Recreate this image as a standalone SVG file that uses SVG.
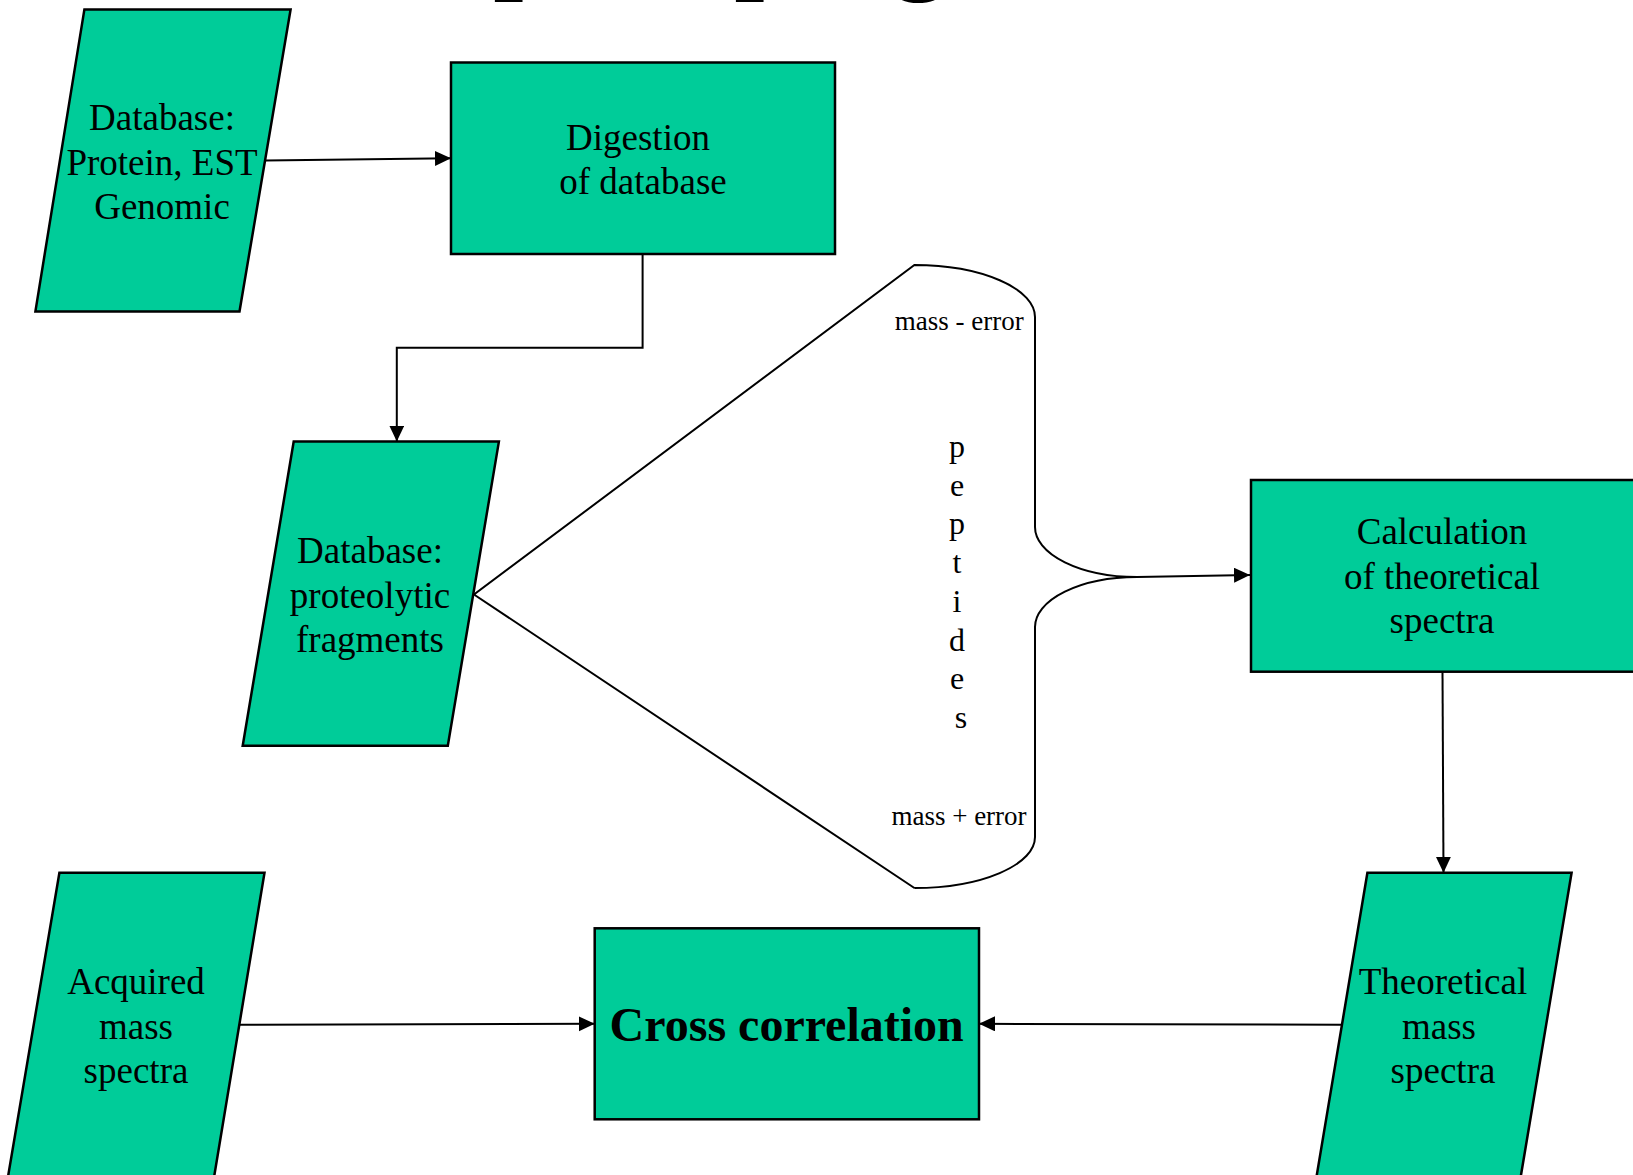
<svg xmlns="http://www.w3.org/2000/svg" width="1633" height="1175" viewBox="0 0 1633 1175">
  <style>
    .box { fill: #00CC99; stroke: #000; stroke-width: 2.5; }
    .lbl { font-family: "Liberation Serif", "Times New Roman", serif; font-size: 37px; fill: #000; text-anchor: middle; }
    .small { font-family: "Liberation Serif", "Times New Roman", serif; font-size: 27px; fill: #000; text-anchor: middle; }
    .vert { font-family: "Liberation Serif", "Times New Roman", serif; font-size: 32px; fill: #000; text-anchor: middle; }
    .title { font-family: "Liberation Serif", "Times New Roman", serif; font-size: 107px; font-weight: bold; fill: #000; }
    .big { font-family: "Liberation Serif", "Times New Roman", serif; font-size: 48px; font-weight: bold; fill: #000; text-anchor: middle; }
    .edge { fill: none; stroke: #000; stroke-width: 2; }
  </style>
  <defs>
    <marker id="arrow" markerUnits="userSpaceOnUse" markerWidth="17" markerHeight="17" refX="16" refY="7.5" orient="auto">
      <path d="M0,0 L16,7.5 L0,15 z" fill="#000"/>
    </marker>
  </defs>

  <rect x="0" y="0" width="1633" height="1175" fill="#fff"/>

  <!-- slide title, running off the top edge -->
  <text class="title" x="357" y="-21">Sequest program</text>

  <g id="db-source">
    <polygon class="box" points="84.4,9.4 290.6,9.4 239.5,311.4 35.4,311.4"/>
    <text class="lbl" x="162" y="130">Database:</text>
    <text class="lbl" x="162" y="175">Protein, EST</text>
    <text class="lbl" x="162" y="219">Genomic</text>
  </g>

  <g id="digestion">
    <rect class="box" x="451" y="62.5" width="384" height="191.5"/>
    <text class="lbl" x="638" y="149.5">Digestion</text>
    <text class="lbl" x="643" y="194">of database</text>
  </g>

  <g id="db-fragments">
    <polygon class="box" points="293.7,441.6 498.9,441.6 447.8,745.7 242.7,745.7"/>
    <text class="lbl" x="370" y="563">Database:</text>
    <text class="lbl" x="370" y="608">proteolytic</text>
    <text class="lbl" x="370" y="652">fragments</text>
  </g>

  <g id="peptide-window">
    <path class="edge" d="M914.4,888 L474,594.5 L914.4,265 A120.6,52 0 0 1 1035,317 L1035,527 A102,50 0 0 0 1137,577 A102,50 0 0 0 1035,627 L1035,837 A120.6,51 0 0 1 914.4,888"/>
    <text class="small" x="959.2" y="330">mass - error</text>
    <text class="small" x="959" y="825">mass + error</text>
    <text class="vert">
      <tspan x="961" y="457">p</tspan>
      <tspan x="961" y="495.7">e</tspan>
      <tspan x="961" y="534.4">p</tspan>
      <tspan x="961" y="573.1">t</tspan>
      <tspan x="961" y="611.8">i</tspan>
      <tspan x="961" y="650.5">d</tspan>
      <tspan x="961" y="689.2">e</tspan>
      <tspan x="961" y="727.9">s</tspan>
    </text>
  </g>

  <g id="calc-theoretical">
    <rect class="box" x="1251" y="480" width="386" height="191.7"/>
    <text class="lbl" x="1442" y="544">Calculation</text>
    <text class="lbl" x="1442" y="589">of theoretical</text>
    <text class="lbl" x="1442" y="633">spectra</text>
  </g>

  <g id="acquired">
    <polygon class="box" points="59.4,872.8 264.5,872.8 213.9,1178 7.8,1178"/>
    <text class="lbl" x="136" y="994">Acquired</text>
    <text class="lbl" x="136" y="1039">mass</text>
    <text class="lbl" x="136" y="1083">spectra</text>
  </g>

  <g id="theoretical">
    <polygon class="box" points="1367.4,872.8 1571.6,872.8 1520.5,1178 1316.3,1178"/>
    <text class="lbl" x="1443" y="994">Theoretical</text>
    <text class="lbl" x="1439" y="1039">mass</text>
    <text class="lbl" x="1443" y="1083">spectra</text>
  </g>

  <g id="cross-correlation">
    <rect class="box" x="594.7" y="928.3" width="384.3" height="191"/>
    <text class="big" x="786.7" y="1041">Cross correlation</text>
  </g>

  <g id="connectors">
    <path class="edge" d="M265.6,160.4 L451,158.3" marker-end="url(#arrow)"/>
    <path class="edge" d="M642.6,254 L642.6,347.8 L396.8,347.8 L396.8,441.6" marker-end="url(#arrow)"/>
    <path class="edge" d="M1137,577 L1250,575" marker-end="url(#arrow)"/>
    <path class="edge" d="M1442.5,671.7 L1443.5,872.8" marker-end="url(#arrow)"/>
    <path class="edge" d="M239,1024.8 L594.7,1023.8" marker-end="url(#arrow)"/>
    <path class="edge" d="M1341.9,1024.8 L979,1023.8" marker-end="url(#arrow)"/>
  </g>
</svg>
